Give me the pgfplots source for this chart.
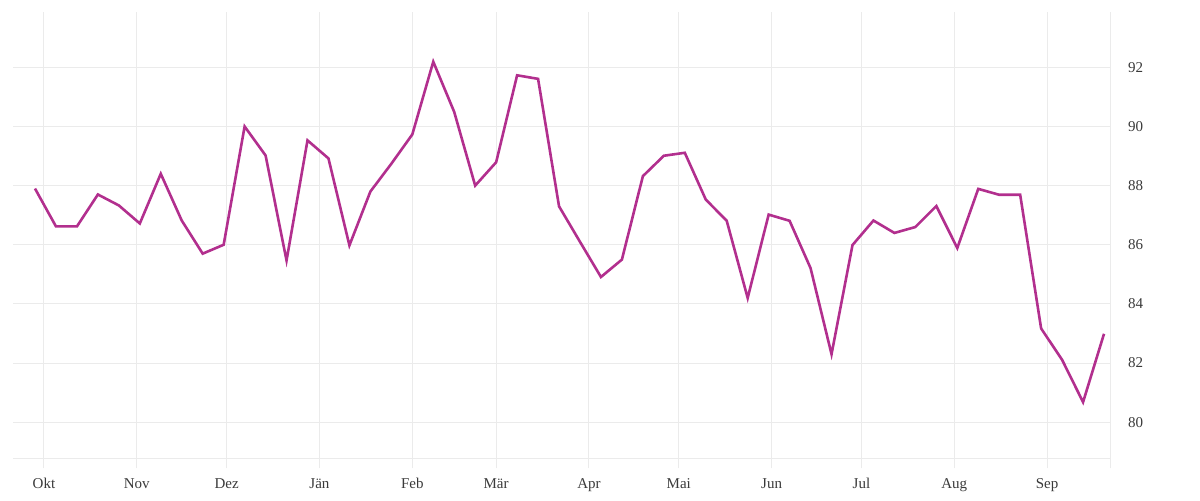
\documentclass[border=0pt]{standalone}
\usepackage{fontspec}
\setmainfont{Liberation Serif}
\usepackage{pgfplots}
\pgfplotsset{compat=1.18}
\definecolor{linecol}{HTML}{B22F8E}
\definecolor{gridcol}{HTML}{EBEBEB}
\definecolor{textcol}{HTML}{3A3A3A}

% weekly values, x = days since 1 Oct
\pgfplotstableread{
day val
-3 87.90
4 86.62
11 86.62
18 87.70
25 87.33
32 86.72
39 88.40
46 86.82
53 85.70
60 86.00
67 90.00
74 89.02
81 85.47
88 89.53
95 88.92
102 85.98
109 87.80
116 88.74
123 89.73
130 92.19
137 90.49
144 88.00
151 88.79
158 91.73
165 91.61
172 87.30
179 86.10
186 84.91
193 85.50
200 88.32
207 89.01
214 89.11
221 87.53
228 86.81
235 84.20
242 87.02
249 86.81
256 85.21
263 82.30
270 85.99
277 86.82
284 86.40
291 86.60
298 87.31
305 85.89
312 87.89
319 87.69
326 87.69
333 83.17
340 82.11
347 80.68
354 82.99
}\weekly

\begin{document}
\fontsize{7.5pt}{9pt}\selectfont
\begin{tikzpicture}
  \path[use as bounding box] (-6.5pt,-20.85pt) rectangle (593.5pt,229.15pt);
  \begin{axis}[
      at={(0pt,0pt)}, anchor=south west,
      scale only axis,
      width=548.5pt, height=223pt,
      xmin=-10.35, xmax=356.0,
      ymin=78.78, ymax=93.86,
      axis x line*=bottom, axis y line*=right,
      axis line style={draw=gridcol, line width=0.5pt, -},
      xtick={0,31,61,92,123,151,182,212,243,273,304,335},
      xticklabels={Okt,Nov,Dez,Jän,Feb,Mär,Apr,Mai,Jun,Jul,Aug,Sep},
      extra x ticks={356.0}, extra x tick labels={},
      extra x tick style={grid=none},
      ytick={80,82,...,92},
      tick align=outside,
      major tick length=5pt,
      xtick style={draw=gridcol, line width=0.5pt},
      ytick style={draw=none},
      xmajorgrids, ymajorgrids,
      major grid style={draw=gridcol, line width=0.5pt},
      xticklabel style={font=\fontsize{7.5pt}{9pt}\selectfont, text=textcol, inner sep=0pt, anchor=base, yshift=-10.2pt},
      yticklabel style={font=\fontsize{7.5pt}{9pt}\selectfont, text=textcol, inner sep=0pt, anchor=west, xshift=3.8pt},
      /pgf/number format/assume math mode=true,
      clip=false,
    ]
    \addplot[linecol, line width=1.3pt, line join=miter] table[x=day, y=val] {\weekly};
  \end{axis}
\end{tikzpicture}
\end{document}
